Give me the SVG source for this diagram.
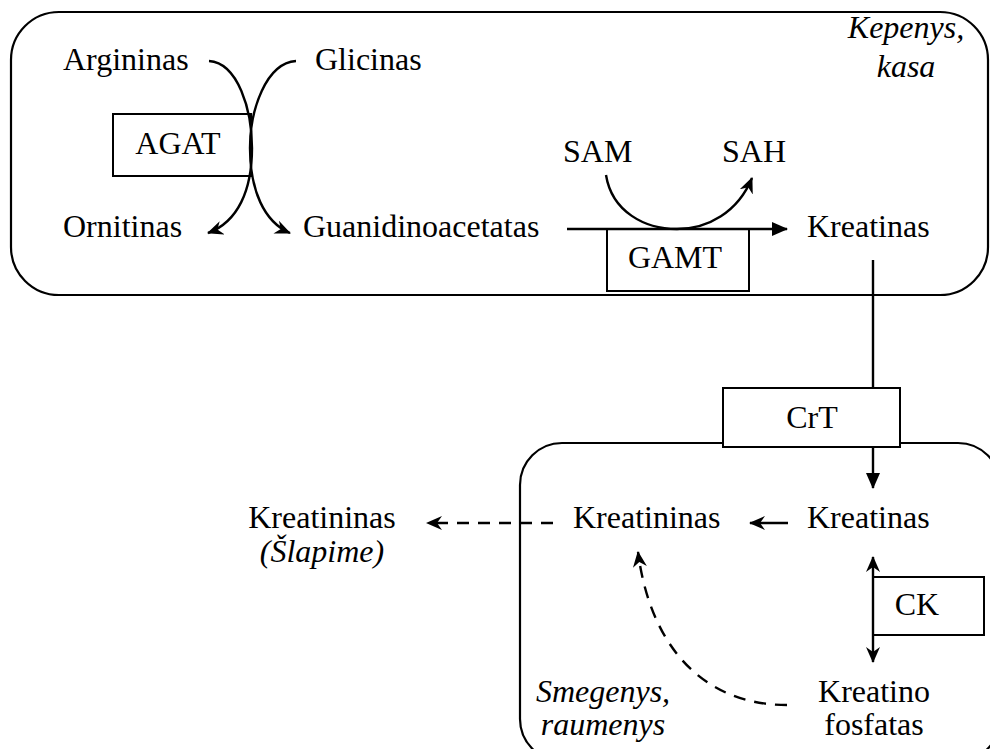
<svg xmlns="http://www.w3.org/2000/svg" width="990" height="749" viewBox="0 0 990 749">
<style>
text{font-family:'Liberation Serif','Tinos','Times New Roman','DejaVu Serif',serif;font-size:32px;fill:#000}
.it{font-style:italic}
.c{text-anchor:middle}
.box{fill:#fff;stroke:#000;stroke-width:2}
.comp{fill:none;stroke:#000;stroke-width:2.2}
.ln{fill:none;stroke:#000;stroke-width:2.4}
.dash{stroke-dasharray:12 9}
</style>
<defs>
<marker id="barb" viewBox="0 0 16 14" refX="15" refY="7" markerWidth="16" markerHeight="14" markerUnits="userSpaceOnUse" orient="auto-start-reverse">
<path d="M0,0 L16,7 L0,14 L5,7 Z" fill="#000"/>
</marker>
<marker id="tri" viewBox="0 0 16 14" refX="15" refY="7" markerWidth="16" markerHeight="14" markerUnits="userSpaceOnUse" orient="auto">
<path d="M0,0 L16,7 L0,14 Z" fill="#000"/>
</marker>
</defs>
<g id="compartments">
<rect id="liver" class="comp" x="11" y="12" width="977" height="283" rx="48"/>
<rect id="muscle" class="comp" x="520" y="443" width="480" height="318" rx="42"/>
</g>
<g id="enzymes-boxes">
<g id="agat"><rect class="box" x="113" y="114" width="138" height="62"/><text class="c" x="178" y="154">AGAT</text></g>
<g id="gamt"><rect class="box" x="607" y="229" width="142" height="62"/><text class="c" x="675" y="268">GAMT</text></g>
<g id="ck"><rect class="box" x="873" y="577" width="111" height="58"/><text class="c" x="917" y="615">CK</text></g>
</g>
<g id="connectors">
<path class="ln" d="M209,61 C238,63 252,110 252,148 C252,190 238,222 208,233" marker-end="url(#barb)"/>
<path class="ln" d="M296,61 C266,63 250,110 250,148 C250,190 264,222 290,233" marker-end="url(#barb)"/>
<path class="ln" d="M567,229 L787,229" marker-end="url(#tri)"/>
<path class="ln" d="M606,175 C612,212 645,229 677,229 C708,229 738,212 752,178" marker-end="url(#barb)"/>
<path class="ln" d="M873,260 L873,390"/>
<path class="ln" d="M873,447 L873,488" marker-end="url(#tri)"/>
<path class="ln" d="M788,523 L750,523" marker-end="url(#barb)"/>
<path class="ln dash" d="M553,523 L427,523" marker-end="url(#barb)"/>
<path class="ln" d="M873,557 L873,662" marker-start="url(#barb)" marker-end="url(#barb)"/>
<path class="ln dash" d="M787,705 C702,705 650,645 638,552" marker-end="url(#barb)"/>
</g>
<g id="crt"><rect class="box" x="723" y="388" width="177" height="59"/><text class="c" x="812" y="428">CrT</text></g>
<g id="argininas"><text x="63" y="70">Argininas</text></g>
<g id="glicinas"><text x="315" y="70">Glicinas</text></g>
<g id="ornitinas"><text x="63" y="237">Ornitinas</text></g>
<g id="guanidinoacetatas"><text x="303" y="237">Guanidinoacetatas</text></g>
<g id="sam"><text x="563" y="162">SAM</text></g>
<g id="sah"><text x="722" y="162">SAH</text></g>
<g id="kreatinas-top"><text x="807" y="237">Kreatinas</text></g>
<g id="liver-label"><text class="it c" x="906" y="38">Kepenys,</text><text class="it c" x="906" y="77">kasa</text></g>
<g id="kreatininas-urine"><text class="c" x="322" y="528">Kreatininas</text><text class="it c" x="322" y="562">(Šlapime)</text></g>
<g id="kreatininas"><text x="573" y="528">Kreatininas</text></g>
<g id="kreatinas-bottom"><text x="807" y="528">Kreatinas</text></g>
<g id="kreatino-fosfatas"><text class="c" x="874" y="702">Kreatino</text><text class="c" x="874" y="735">fosfatas</text></g>
<g id="muscle-label"><text class="it c" x="603" y="702">Smegenys,</text><text class="it c" x="603" y="735">raumenys</text></g>
</svg>
